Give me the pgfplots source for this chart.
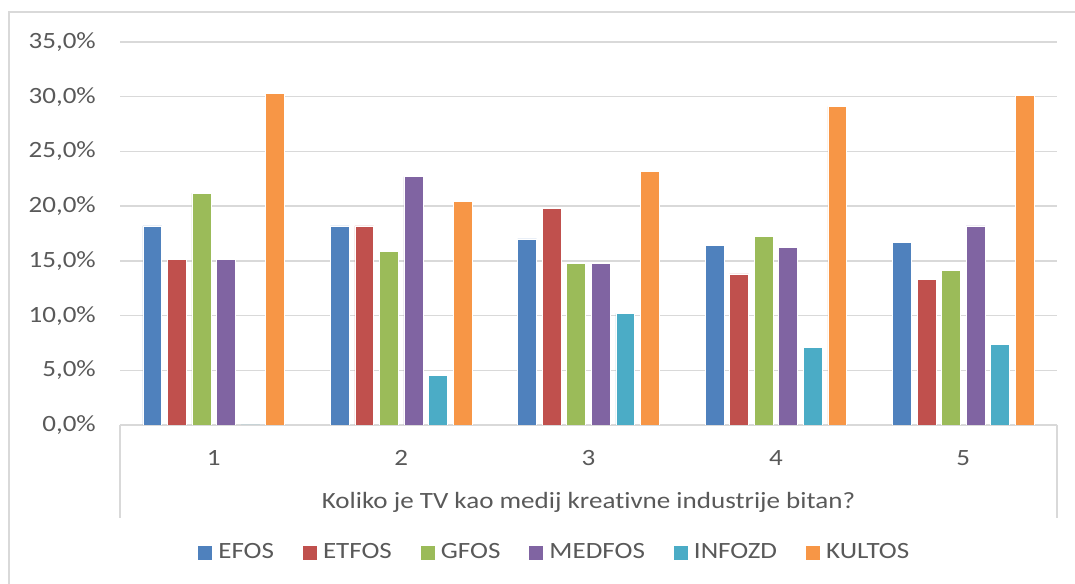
\documentclass[border=0pt]{standalone}
\usepackage{fontspec}
\setmainfont{Carlito}[FakeStretch=1.16, RawFeature=-liga]
\usepackage{pgfplots}
\pgfplotsset{compat=1.18}
\definecolor{cEFOS}{HTML}{4F81BD}
\definecolor{cETFOS}{HTML}{C0504D}
\definecolor{cGFOS}{HTML}{9BBB59}
\definecolor{cMEDFOS}{HTML}{8064A2}
\definecolor{cINFOZD}{HTML}{4BACC6}
\definecolor{cKULTOS}{HTML}{F79646}
\definecolor{gridc}{HTML}{D9D9D9}
\definecolor{txt}{HTML}{595959}
\begin{document}
\fontsize{23.4}{27}\selectfont
\begin{tikzpicture}
\useasboundingbox (0,0) rectangle (1075bp,584bp);
\draw[gridc, line width=2bp] (9bp,0) -- (9bp,572bp) -- (1075bp,572bp);
\begin{axis}[
  at={(120bp,159bp)}, anchor=south west,
  scale only axis, width=937bp, height=383bp,
  xmin=0.5, xmax=5.5, ymin=0, ymax=35,
  axis line style={draw=none},
  ytick={0,5,...,35},
  yticklabels={{0,0\%},{5,0\%},{10,0\%},{15,0\%},{20,0\%},{25,0\%},{30,0\%},{35,0\%}},
  xtick={1,2,3,4,5},
  xticklabels={1,2,3,4,5},
  major tick length=0pt,
  ymajorgrids, grid style={gridc, line width=1.3bp},
  yticklabel style={anchor=east, inner sep=0pt, xshift=-24bp, text=txt, font=\fontsize{23.4}{27}\selectfont},
  xticklabel style={anchor=center, inner sep=0pt, yshift=-33bp, text=txt, font=\fontsize{23.4}{27}\selectfont},
  xlabel={Koliko je TV kao medij kreativne industrije bitan?},
  xlabel style={at={(axis description cs:0.5,-0.201)}, anchor=center, inner sep=0pt, text=txt, font=\fontsize{23.4}{27}\selectfont},
  ybar, bar width=0.101,
  every axis plot/.append style={draw=white, line width=0.6bp},
  legend columns=6,
  legend style={at={(axis description cs:0.464,-0.334)}, anchor=center, draw=none, fill=none,
    font=\fontsize{23.4}{27}\selectfont, text=txt,
    /tikz/every even column/.append style={column sep=27bp},
    /tikz/every odd column/.append style={column sep=4bp}},
  legend image code/.code={\fill[#1, draw=none] (0bp,-7bp) rectangle (14bp,7bp);},
]
\addplot[fill=cEFOS, bar shift=-0.3275] coordinates {(1,18.2) (2,18.2) (3,17.0) (4,16.4) (5,16.7)};
\addplot[fill=cETFOS, bar shift=-0.1965] coordinates {(1,15.1) (2,18.2) (3,19.8) (4,13.8) (5,13.3)};
\addplot[fill=cGFOS, bar shift=-0.0655] coordinates {(1,21.2) (2,15.9) (3,14.8) (4,17.2) (5,14.1)};
\addplot[fill=cMEDFOS, bar shift=0.0655] coordinates {(1,15.1) (2,22.7) (3,14.8) (4,16.2) (5,18.2)};
\addplot[fill=cINFOZD, bar shift=0.1965] coordinates {(1,0) (2,4.5) (3,10.2) (4,7.1) (5,7.4)};
\addplot[fill=cKULTOS, bar shift=0.3275] coordinates {(1,30.3) (2,20.4) (3,23.2) (4,29.1) (5,30.1)};
\legend{EFOS,ETFOS,GFOS,MEDFOS,INFOZD,KULTOS}
\end{axis}
\draw[gridc, line width=1.3bp] (120bp,159bp) -- (120bp,66bp);
\draw[gridc, line width=1.3bp] (1057bp,159bp) -- (1057bp,66bp);
\end{tikzpicture}
\end{document}
